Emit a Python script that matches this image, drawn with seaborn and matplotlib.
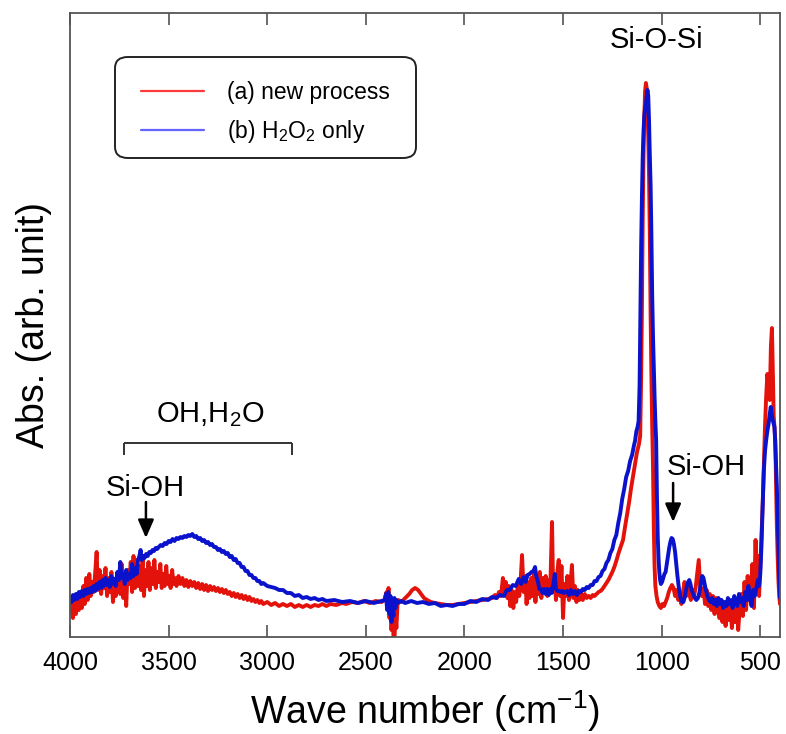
import matplotlib
matplotlib.use("Agg")
import matplotlib.pyplot as plt
import numpy as np
import pandas as pd
import seaborn as sns
from matplotlib.lines import Line2D
from matplotlib.patches import FancyBboxPatch

# ---------------- data (arbitrary absorbance units) ----------------
red_wn = [4000, 3992, 3985, 3978, 3970, 3962, 3955, 3948, 3940, 3932, 3925, 3918, 3910, 3902, 3895,
          3888, 3880, 3872, 3865, 3858, 3850, 3842, 3835, 3828, 3820, 3812, 3805, 3798, 3790, 3782,
          3775, 3768, 3760, 3752, 3745, 3738, 3730, 3722, 3715, 3708, 3700, 3692, 3685, 3678, 3670,
          3662, 3655, 3648, 3640, 3632, 3625, 3618, 3610, 3602, 3595, 3588, 3580, 3572, 3565, 3558,
          3550, 3542, 3535, 3528, 3520, 3512, 3505, 3498, 3490, 3482, 3475, 3468, 3460, 3450, 3440,
          3430, 3420, 3410, 3400, 3390, 3380, 3370, 3360, 3350, 3340, 3330, 3320, 3310, 3300, 3290,
          3280, 3270, 3260, 3250, 3240, 3230, 3220, 3210, 3200, 3190, 3180, 3170, 3160, 3150, 3140,
          3130, 3120, 3110, 3100, 3090, 3080, 3070, 3060, 3050, 3040, 3030, 3020, 3000, 2980, 2960,
          2940, 2920, 2900, 2880, 2860, 2840, 2820, 2800, 2780, 2760, 2740, 2720, 2700, 2680, 2650,
          2620, 2600, 2570, 2540, 2510, 2480, 2450, 2420, 2405, 2395, 2390, 2385, 2380, 2375, 2370,
          2365, 2360, 2355, 2350, 2345, 2340, 2335, 2320, 2300, 2280, 2265, 2250, 2235, 2220, 2205,
          2190, 2170, 2150, 2120, 2090, 2060, 2030, 2000, 1970, 1940, 1910, 1880, 1860, 1845, 1835,
          1825, 1815, 1805, 1798, 1790, 1782, 1775, 1768, 1760, 1752, 1745, 1738, 1730, 1722, 1715,
          1708, 1700, 1692, 1685, 1678, 1670, 1662, 1655, 1648, 1640, 1632, 1625, 1618, 1610, 1602,
          1595, 1588, 1580, 1572, 1565, 1556, 1550, 1543, 1536, 1528, 1522, 1515, 1508, 1500, 1493,
          1486, 1478, 1470, 1462, 1455, 1448, 1440, 1432, 1425, 1418, 1410, 1400, 1390, 1380, 1370,
          1360, 1350, 1340, 1330, 1320, 1310, 1300, 1290, 1280, 1270, 1260, 1250, 1240, 1230, 1220,
          1210, 1196, 1185, 1175, 1165, 1155, 1145, 1135, 1125, 1115, 1109, 1104, 1100, 1096, 1092,
          1088, 1084, 1080, 1076, 1072, 1068, 1064, 1060, 1056, 1052, 1048, 1044, 1040, 1036, 1032,
          1026, 1020, 1012, 1004, 996, 988, 980, 972, 964, 956, 948, 940, 932, 924, 916,
          908, 900, 892, 884, 876, 868, 860, 852, 844, 836, 828, 820, 812, 804, 796,
          788, 780, 772, 764, 756, 748, 740, 732, 724, 716, 708, 700, 692, 684, 676,
          668, 660, 652, 644, 636, 628, 620, 612, 604, 596, 588, 580, 572, 564, 556,
          548, 540, 532, 524, 518, 512, 506, 500, 494, 488, 482, 476, 470, 464, 458,
          452, 446, 441, 436, 432, 428, 424, 420, 416, 412, 408, 404, 400]
red_abs = [24, 32, 18, 36, 22, 40, 26, 44, 28, 50, 32, 58, 36, 62, 40,
           54, 44, 64, 84, 46, 66, 42, 60, 48, 68, 40, 58, 44, 64, 34,
           56, 40, 50, 62, 42, 72, 38, 60, 30, 66, 52, 74, 44, 80, 48,
           76, 50, 70, 46, 78, 40, 66, 50, 74, 46, 68, 52, 76, 48, 64,
           54, 72, 48, 62, 50, 70, 52, 60, 48, 66, 52, 58, 50, 60, 52,
           58, 50, 56, 49, 55, 50, 54, 48, 53, 47, 52, 46, 51, 45, 50,
           46, 49, 45, 48, 44, 47, 43, 46, 42, 44, 40, 43, 39, 42, 38,
           41, 37, 40, 36, 39, 35, 37, 34, 36, 33, 35, 32, 34, 31, 33,
           30, 32, 30, 32, 29, 31, 29, 31, 29, 31, 30, 32, 30, 32, 31,
           33, 32, 34, 33, 35, 33, 35, 34, 36, 44, 30, 48, 18, 36, 6,
           26, 0, -4, 20, 8, 30, 36, 34, 38, 42, 46, 48, 46, 42, 38,
           36, 34, 33, 32, 31, 31, 32, 33, 34, 35, 36, 37, 38, 41, 38,
           44, 40, 58, 42, 54, 38, 50, 30, 46, 28, 44, 34, 50, 40, 56,
           81, 44, 60, 32, 54, 38, 58, 40, 62, 34, 56, 42, 64, 38, 58,
           44, 60, 40, 56, 46, 114, 44, 58, 36, 66, 76, 40, 70, 18, 52,
           40, 60, 36, 52, 71, 38, 50, 34, 46, 36, 44, 36, 42, 38, 40,
           38, 41, 40, 42, 44, 45, 47, 50, 53, 56, 60, 64, 69, 75, 82,
           88, 96, 110, 122, 134, 148, 160, 172, 184, 192, 200, 260, 330, 420, 480,
           520, 545, 553, 548, 530, 500, 460, 400, 320, 260, 210, 170, 110, 70, 50,
           40, 34, 30, 28, 32, 30, 34, 38, 44, 48, 51, 48, 40, 46, 36,
           42, 32, 44, 54, 40, 50, 42, 36, 46, 40, 48, 62, 76, 46, 40,
           48, 32, 46, 30, 42, 26, 40, 22, 38, 28, 18, 36, 14, 32, 10,
           30, 16, 34, 8, 26, 14, 36, 6, 28, 42, 20, 54, 26, 60, 36,
           44, 72, 28, 96, 54, 80, 40, 70, 100, 130, 170, 210, 240, 262, 248,
           236, 290, 308, 262, 220, 209, 196, 150, 110, 80, 56, 40, 32]

blue_wn = [4000, 3992, 3985, 3978, 3970, 3962, 3955, 3948, 3940, 3932, 3925, 3918, 3910, 3902, 3895,
           3888, 3880, 3872, 3865, 3858, 3850, 3842, 3835, 3828, 3820, 3812, 3805, 3798, 3790, 3782,
           3775, 3768, 3760, 3752, 3745, 3738, 3730, 3722, 3715, 3708, 3700, 3692, 3685, 3678, 3670,
           3662, 3655, 3648, 3642, 3636, 3630, 3622, 3614, 3606, 3598, 3590, 3582, 3574, 3566, 3558,
           3550, 3540, 3530, 3520, 3510, 3500, 3490, 3480, 3470, 3460, 3450, 3440, 3430, 3420, 3410,
           3400, 3390, 3380, 3370, 3360, 3350, 3340, 3330, 3320, 3310, 3300, 3290, 3280, 3270, 3260,
           3250, 3240, 3230, 3220, 3210, 3200, 3190, 3180, 3170, 3160, 3150, 3140, 3130, 3120, 3110,
           3100, 3090, 3080, 3070, 3060, 3050, 3040, 3030, 3020, 3000, 2980, 2960, 2940, 2920, 2900,
           2880, 2860, 2840, 2820, 2800, 2780, 2760, 2740, 2720, 2700, 2660, 2620, 2580, 2540, 2500,
           2460, 2420, 2405, 2398, 2392, 2386, 2380, 2375, 2370, 2365, 2360, 2355, 2350, 2345, 2338,
           2320, 2300, 2270, 2240, 2210, 2180, 2150, 2120, 2090, 2060, 2030, 2000, 1970, 1940, 1910,
           1880, 1860, 1840, 1820, 1800, 1785, 1770, 1755, 1740, 1725, 1712, 1700, 1690, 1680, 1670,
           1660, 1650, 1642, 1636, 1628, 1620, 1612, 1604, 1596, 1588, 1580, 1572, 1565, 1558, 1550,
           1542, 1536, 1528, 1520, 1512, 1504, 1496, 1488, 1480, 1470, 1460, 1450, 1440, 1430, 1420,
           1410, 1400, 1390, 1380, 1370, 1360, 1350, 1340, 1330, 1320, 1310, 1300, 1290, 1280, 1270,
           1260, 1250, 1240, 1230, 1220, 1210, 1200, 1190, 1180, 1170, 1160, 1150, 1140, 1135, 1128,
           1122, 1117, 1112, 1108, 1104, 1100, 1096, 1092, 1088, 1084, 1080, 1076, 1072, 1068, 1064,
           1060, 1056, 1052, 1048, 1044, 1040, 1036, 1032, 1028, 1024, 1020, 1016, 1012, 1008, 1004,
           998, 992, 986, 980, 974, 968, 962, 956, 950, 944, 938, 932, 926, 920, 914,
           908, 902, 896, 890, 884, 878, 872, 866, 860, 854, 848, 840, 832, 824, 816,
           808, 800, 794, 788, 782, 776, 768, 760, 752, 744, 736, 728, 720, 712, 704,
           696, 688, 680, 672, 664, 656, 648, 640, 632, 624, 616, 608, 600, 592, 584,
           576, 568, 560, 552, 544, 536, 528, 520, 512, 506, 500, 494, 488, 482, 476,
           470, 464, 458, 452, 447, 442, 437, 432, 428, 424, 420, 416, 412, 408, 404,
           400]
blue_abs = [38, 34, 41, 36, 42, 37, 44, 39, 45, 40, 46, 42, 47, 43, 48,
            44, 50, 45, 52, 47, 54, 48, 56, 50, 58, 51, 56, 49, 60, 52,
            57, 50, 64, 56, 74, 58, 62, 52, 66, 56, 62, 58, 72, 60, 68,
            62, 76, 80, 86, 76, 80, 78, 82, 80, 84, 83, 86, 85, 88, 87,
            89, 91, 90, 93, 92, 95, 94, 97, 95, 98, 97, 99, 98, 100, 99,
            101, 100, 102, 99, 100, 97, 98, 95, 96, 93, 94, 91, 92, 89, 89,
            86, 87, 84, 85, 82, 83, 79, 80, 76, 77, 73, 73, 69, 69, 65,
            65, 61, 61, 58, 58, 55, 55, 52, 53, 50, 49, 48, 46, 46, 43,
            43, 40, 41, 38, 39, 37, 38, 36, 37, 35, 36, 34, 35, 33, 35,
            33, 35, 36, 42, 26, 44, 22, 40, 14, 34, 20, 38, 28, 36, 33,
            35, 33, 35, 33, 34, 32, 33, 30, 31, 30, 32, 32, 35, 34, 37,
            36, 39, 38, 41, 40, 46, 46, 51, 50, 57, 52, 59, 54, 61, 62,
            64, 65, 69, 60, 55, 47, 47, 43, 47, 42, 47, 41, 47, 43, 51,
            62, 47, 45, 45, 44, 45, 43, 44, 45, 41, 46, 42, 45, 41, 45,
            44, 47, 46, 49, 48, 51, 51, 55, 55, 59, 60, 65, 67, 73, 76,
            83, 87, 96, 101, 113, 123, 137, 147, 159, 165, 175, 181, 191, 195, 205,
            209, 215, 250, 320, 390, 440, 480, 505, 520, 528, 532, 540, 546, 540, 515,
            480, 450, 400, 340, 300, 270, 240, 215, 196, 140, 100, 78, 64, 56, 52,
            54, 58, 62, 64, 72, 80, 88, 94, 98, 97, 92, 84, 72, 60, 50,
            42, 36, 34, 34, 38, 44, 50, 54, 56, 52, 46, 42, 38, 36, 38,
            44, 54, 60, 58, 52, 46, 40, 36, 34, 38, 32, 36, 30, 38, 32,
            36, 28, 34, 30, 38, 32, 36, 28, 40, 34, 30, 42, 34, 38, 30,
            44, 36, 50, 38, 30, 46, 40, 48, 56, 50, 62, 90, 130, 165, 185,
            196, 205, 212, 222, 229, 222, 216, 212, 209, 192, 170, 150, 120, 90, 60,
            38]

series_labels = ["(a) new process", "(b) H$_2$O$_2$ only"]
series_colors = ["#e3120b", "#0b12cc"]
legend_colors = ["#ff3a3a", "#6464ff"]
xtick_values = [4000, 3500, 3000, 2500, 2000, 1500, 1000, 500]

# ---------------- style ----------------
sns.set_style("ticks")
plt.rcParams["font.family"] = ["Liberation Sans", "DejaVu Sans"]
plt.rcParams["mathtext.fontset"] = "custom"
plt.rcParams["mathtext.rm"] = "Liberation Sans"
plt.rcParams["mathtext.it"] = "Liberation Sans:italic"
plt.rcParams["mathtext.bf"] = "Liberation Sans:bold"
plt.rcParams["text.color"] = "black"
plt.rcParams["axes.labelcolor"] = "black"
plt.rcParams["xtick.labelcolor"] = "black"

fig = plt.figure(figsize=(7.86, 7.34), dpi=100)
ax = fig.add_axes([70 / 786, 1 - 637 / 734, 710 / 786, 624 / 734])

df = pd.concat([
    pd.DataFrame({"wn": red_wn, "abs": red_abs, "sample": series_labels[0]}),
    pd.DataFrame({"wn": blue_wn, "abs": blue_abs, "sample": series_labels[1]}),
], ignore_index=True)

sns.lineplot(data=df, x="wn", y="abs", hue="sample",
             palette=dict(zip(series_labels, series_colors)),
             estimator=None, sort=False, linewidth=2.8, legend=False, ax=ax)

ax.set_xlim(4000, 400)
ax.set_ylim(-1, 623)
ax.set_xticks(xtick_values)
ax.set_yticks([])
ax.tick_params(axis="x", direction="in", top=True, bottom=True, length=8.5,
               width=1.1, labelsize=18, pad=10, color="#444444", labelcolor="black")
for s in ax.spines.values():
    s.set_linewidth(1.3)
    s.set_color("#555555")

ax.set_xlabel("Wave number (cm$^{-1}$)", fontsize=27, labelpad=10, color="black")
ax.set_ylabel("Abs. (arb. unit)", fontsize=27, labelpad=13, color="black")

# ---------------- annotations ----------------
ann_fs = 21
ax.text(1024, 596, "Si-O-Si", fontsize=ann_fs, ha="center", va="center")
ax.text(3290, 221, "OH,H$_2$O", fontsize=ann_fs, ha="center", va="center")
ax.text(3620, 148, "Si-OH", fontsize=ann_fs, ha="center", va="center")
ax.text(775, 169, "Si-OH", fontsize=ann_fs, ha="center", va="center")

bracket_x = (3726, 2874)
bracket_y = (193, 181)
ax.hlines(bracket_y[0], bracket_x[1], bracket_x[0], color="#333333", lw=1.4)
ax.vlines(bracket_x, bracket_y[1], bracket_y[0], color="#333333", lw=1.4)

arrow_kw = dict(arrowstyle="-|>,head_length=1.1,head_width=0.48", color="black",
                lw=1.8, shrinkA=0, shrinkB=0)
ax.annotate("", xy=(3615, 98), xytext=(3615, 134), arrowprops=arrow_kw)
ax.annotate("", xy=(942, 114), xytext=(942, 153), arrowprops=arrow_kw)

# ---------------- legend ----------------
frame = FancyBboxPatch((45 / 710, 1 - 145 / 624), 301 / 710, 101 / 624,
                       boxstyle="round,pad=0,rounding_size=0.018",
                       transform=ax.transAxes, facecolor="white",
                       edgecolor="#222222", linewidth=1.4, zorder=5)
ax.add_patch(frame)
handles = [Line2D([], [], color=c, lw=1.6) for c in legend_colors]
leg = ax.legend(handles, series_labels, loc="upper left",
                bbox_to_anchor=(71 / 710, 1 - 68 / 624), frameon=False,
                fontsize=16.5, handlelength=2.75, handletextpad=1.0,
                labelspacing=0.62, borderpad=0, borderaxespad=0)
leg.set_zorder(6)

fig.savefig("out.png", dpi=100)
